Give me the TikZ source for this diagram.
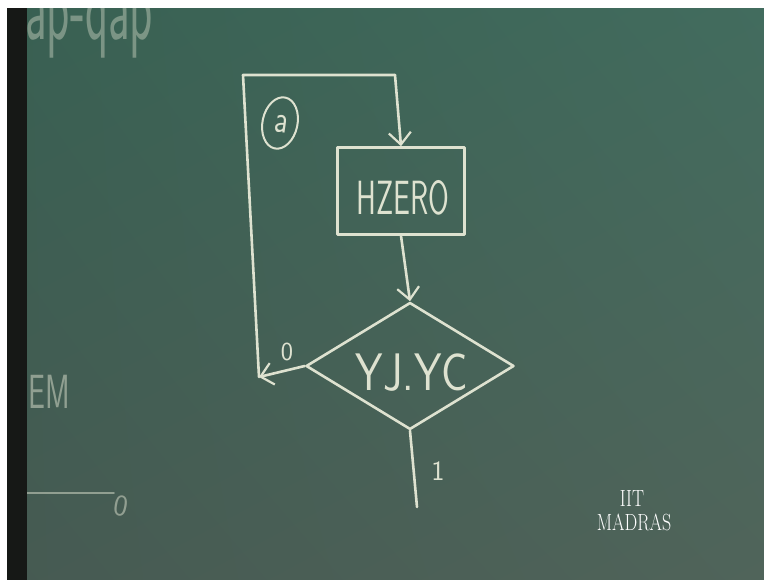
\documentclass[tikz,border=0pt]{standalone}
\usepackage{tikz}
\usetikzlibrary{positioning,arrows.meta,shapes.geometric,calc,shadings}
\usepackage{xcolor}
\definecolor{chalk}{RGB}{222,226,208}
\definecolor{boardUL}{RGB}{56,96,82}
\definecolor{boardUR}{RGB}{66,108,94}
\definecolor{boardLL}{RGB}{70,90,82}
\definecolor{boardLR}{RGB}{80,100,90}
\definecolor{frame}{RGB}{22,24,22}

\begin{document}
\begin{tikzpicture}[x=1pt, y=-1pt,
    chalkline/.style={draw=chalk, line width=2.6pt, line cap=round, line join=round},
    arr/.style={-{Straight Barb[length=12pt,width=22pt,line width=2.2pt]}},
    chalktext/.style={text=chalk, font=\sffamily, inner sep=0pt},
    faded/.style={opacity=0.5}]
  \useasboundingbox (0,0) rectangle (764,580);
  % Board
  \shade[upper left=boardUL, upper right=boardUR, lower left=boardLL, lower right=boardLR]
    (0,0) rectangle (764,580);
  % Old writing left on the board
  \node[chalktext, opacity=0.4, anchor=base west, font=\sffamily\fontsize{40}{40}\selectfont]
    (oldtop) at (25,40) {\scalebox{1.2}[2.4]{ap-qap}};
  \node[chalktext, faded, font=\sffamily\fontsize{30}{30}\selectfont]
    (oldem) at (49,392) {\scalebox{1}[1.6]{EM}};
  \node[chalktext, faded, font=\sffamily\fontsize{30}{30}\selectfont, rotate=-10]
    (oldzero) at (121,506) {0};
  \coordinate (oldstart) at (27,493);
  \draw[chalkline, faded, line width=2pt] (oldstart) -- (oldzero.west |- oldstart);
  % Process box
  \node[chalkline, rectangle, minimum width=127pt, minimum height=87pt, inner sep=0pt]
    (hzero) at (401,191) {};
  \node[chalktext, font=\sffamily\fontsize{30}{30}\selectfont]
    (hzerotext) at (403,198) {\scalebox{1}[1.6]{HZERO}};
  % Decision
  \node[chalkline, diamond, minimum width=208pt, minimum height=127pt, inner sep=0pt]
    (yjyc) at (410,366) {};
  \node[chalktext, font=\sffamily\fontsize{44}{44}\selectfont]
    (yjyctext) at (412,373) {\scalebox{1}[1.2]{YJ.YC}};
  % Flow into the decision
  \draw[chalkline, arr] (hzero.south) -- (yjyc.north);
  % Branch 0 loops back to the top
  \coordinate (lowleft) at (259,377);
  \coordinate (topleft) at (243,75);
  \coordinate (topright) at (395,75);
  \draw[chalkline, arr] (yjyc.west) -- (lowleft);
  \draw[chalkline] (lowleft) -- (topleft) -- (topright);
  \draw[chalkline, arr] (topright) -- (hzero.north);
  \node[chalktext, font=\sffamily\fontsize{26}{26}\selectfont] (zero) at (287,352) {0};
  % Loop label
  \node[chalkline, ellipse, line width=2pt, minimum width=35pt, minimum height=52pt,
    rotate=-12] (loopa) at (280,123) {};
  \node[chalktext, font=\sffamily\fontsize{30}{30}\selectfont, rotate=-8] (loopatext)
    at (281,124) {\scalebox{1}[1.3]{a}};
  % Branch 1
  \coordinate (exitone) at (417,507);
  \draw[chalkline] (yjyc.south) -- (exitone);
  \node[chalktext, font=\sffamily\fontsize{28}{28}\selectfont] (one) at (438,471) {1};
  % Caption
  \node[text=white, font=\rmfamily\fontsize{18}{18}\selectfont, inner sep=0pt]
    (iit) at (632,499) {\scalebox{1}[1.3]{IIT}};
  \node[text=white, font=\rmfamily\fontsize{18}{18}\selectfont, inner sep=0pt]
    (madras) at (634,522) {\scalebox{1}[1.3]{MADRAS}};
  % Photo edges
  \fill[frame] (7,0) rectangle (27,580);
  \fill[white] (0,0) rectangle (7,580);
  \fill[white] (0,0) rectangle (764,8);
\end{tikzpicture}
\end{document}
